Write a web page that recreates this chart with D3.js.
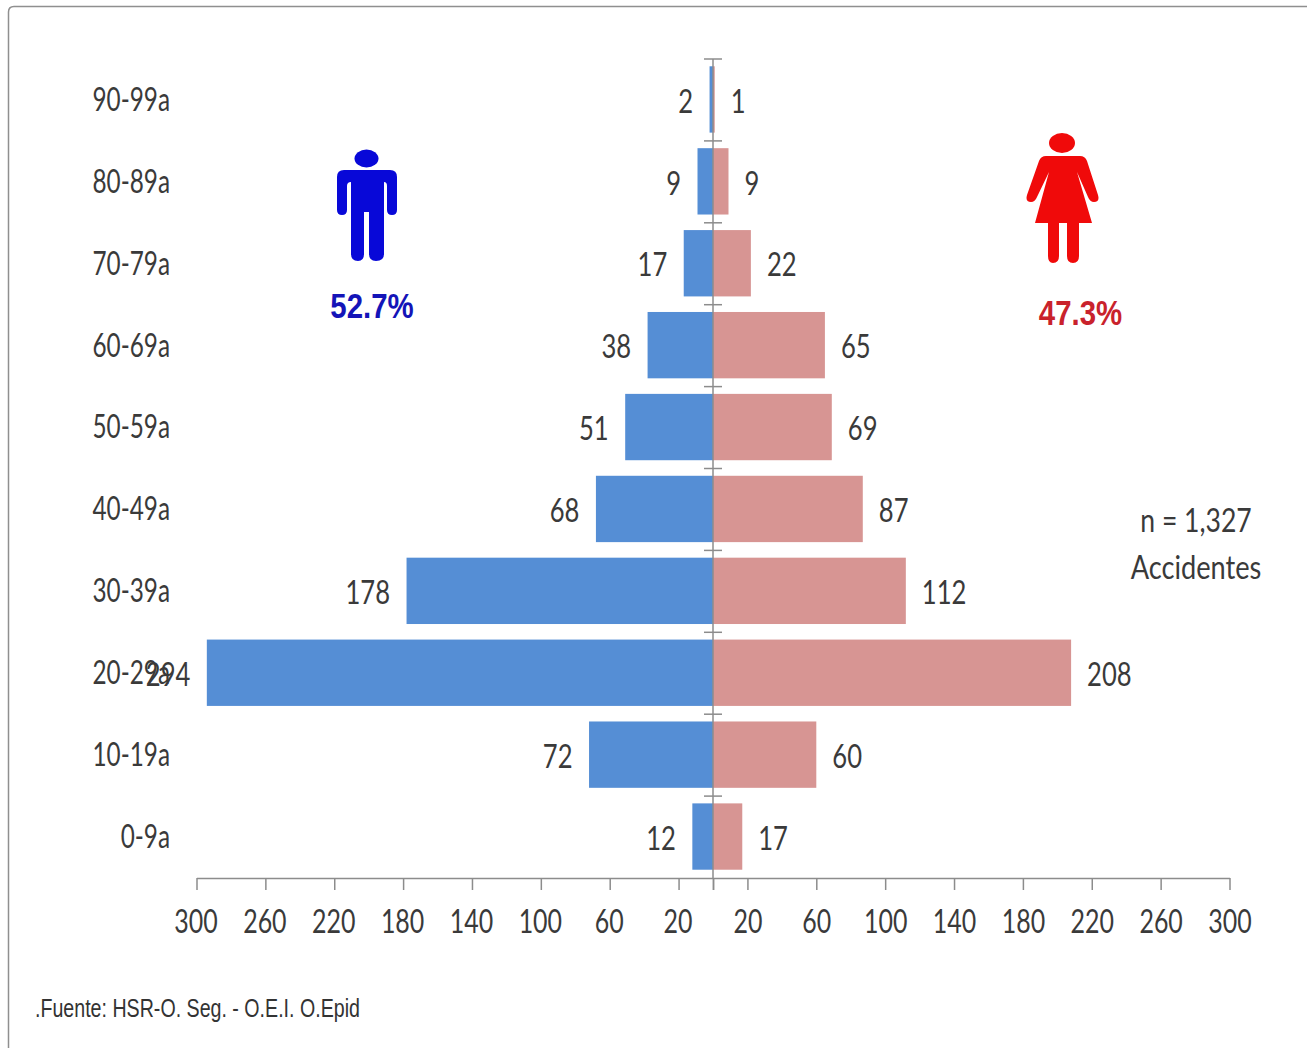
<!DOCTYPE html>
<html><head><meta charset="utf-8">
<script src="https://cdnjs.cloudflare.com/ajax/libs/d3/7.8.5/d3.min.js"></script>
<style>html,body{margin:0;padding:0;background:#fff}svg{display:block}</style>
</head><body><svg id="c" width="1307" height="1048"></svg>
<script>
const ageGroups = ["0-9a","10-19a","20-29a","30-39a","40-49a","50-59a","60-69a","70-79a","80-89a","90-99a"];
const maleValues = [12,72,294,178,68,51,38,17,9,2];
const femaleValues = [17,60,208,112,87,69,65,22,9,1];
const tickValues = [20,60,100,140,180,220,260,300];
const malePct = "52.7%", femalePct = "47.3%";
const noteLines = ["n = 1,327","Accidentes"];
const source = ".Fuente: HSR-O. Seg. - O.E.I. O.Epid";

const svg = d3.select("#c");
const cx = 713, axisY = 878, topY = 59;
const xM = d3.scaleLinear().domain([0,300]).range([cx,196.5]);
const xF = d3.scaleLinear().domain([0,300]).range([cx,1229.5]);
const y = d3.scaleBand().domain(ageGroups).range([axisY-0.5,topY-0.5]).paddingInner(0.19).paddingOuter(0.095);
const yStep = d3.scaleBand().domain(ageGroups).range([axisY,topY]);
const AXIS = "#8c8c8c", TXT = "#3a3a3a";

// frame
svg.append("path").attr("d","M8.5 1048V12Q8.5 6.5 14 6.5H1307").attr("fill","none").attr("stroke","#8f8f8f").attr("stroke-width",1.5);

function label(g,x,yy,t,o={}){
  return g.append("text").attr("transform",`translate(${x},${yy}) scale(${o.sx||0.78},1)`)
   .attr("text-anchor",o.anchor||"start").attr("dominant-baseline","central")
   .attr("font-family",o.font||"Lato, sans-serif").attr("font-size",o.size||32)
   .attr("font-weight",o.weight||400).attr("fill",o.fill||TXT).text(t);
}

// bars
svg.append("g").selectAll("rect").data(ageGroups).join("rect")
  .attr("x",(d,i)=>xM(maleValues[i])).attr("y",d=>y(d)).attr("height",y.bandwidth())
  .attr("width",(d,i)=>cx-xM(maleValues[i])).attr("fill","#558ed5");
svg.append("g").selectAll("rect").data(ageGroups).join("rect")
  .attr("x",cx).attr("y",d=>y(d)).attr("height",y.bandwidth())
  .attr("width",(d,i)=>xF(femaleValues[i])-cx).attr("fill","#d79593");

// centre axis
const ca = svg.append("g").attr("stroke",AXIS).attr("stroke-width",1.5);
ca.append("line").attr("x1",cx).attr("x2",cx).attr("y1",topY).attr("y2",axisY);
const bounds = ageGroups.map(d=>yStep(d));
ca.selectAll("line.t").data(bounds).join("line").attr("class","t")
  .attr("x1",cx-9).attr("x2",cx+9).attr("y1",d=>d).attr("y2",d=>d);

// bottom axes
function fmtAxis(sel){
  sel.select(".domain").attr("stroke",AXIS).attr("stroke-width",1.5);
  sel.selectAll(".tick line").attr("stroke",AXIS).attr("stroke-width",1.5);
  sel.selectAll(".tick text").remove();
}
svg.append("g").attr("transform",`translate(0,${axisY})`)
  .call(d3.axisBottom(xM).tickValues([0].concat(tickValues)).tickSize(12).tickSizeOuter(0)).call(fmtAxis);
svg.append("g").attr("transform",`translate(0,${axisY})`)
  .call(d3.axisBottom(xF).tickValues([0].concat(tickValues)).tickSize(12).tickSizeOuter(0)).call(fmtAxis);
const tl = svg.append("g");
tickValues.forEach(v=>{
  label(tl,xM(v)-0.5,921,v,{anchor:"middle"});
  label(tl,xF(v)+0.5,921,v,{anchor:"middle"});
});

// labels
const cl = svg.append("g");
ageGroups.forEach((d,i)=>{
  const c = yStep(d)+yStep.bandwidth()/2;
  label(cl,170,c-1.5,d,{anchor:"end",sx:0.76});
  label(cl,xM(maleValues[i])-16.5,c,maleValues[i],{anchor:"end",sx:0.8});
  label(cl,xF(femaleValues[i])+16,c,femaleValues[i],{sx:0.8});
});

// note & source
const nt = svg.append("g");
label(nt,1196,519,noteLines[0],{anchor:"middle",sx:0.83});
label(nt,1196,567,noteLines[1],{anchor:"middle",sx:0.85});
label(nt,35,1009,source,{font:"'Liberation Sans', sans-serif",size:25,sx:0.785,fill:"#333"});
label(nt,372,306,malePct,{anchor:"middle",font:"'Liberation Sans', sans-serif",size:35,weight:700,fill:"#1414b8",sx:0.84});
label(nt,1080.5,313,femalePct,{anchor:"middle",font:"'Liberation Sans', sans-serif",size:35,weight:700,fill:"#c9222c",sx:0.84});

// pictograms
const ic = svg.append("g");
ic.append("ellipse").attr("cx",366.5).attr("cy",158.5).attr("rx",12).attr("ry",9).attr("fill","#0808d8");
ic.append("path").attr("fill","#0808d8").attr("d",
 "M344 170H390Q397 170 397 177V210Q397 215 392 215Q387 215 387 210V186Q387 182 384 182V254Q384 261 376 261Q369 261 369 254V212H364V254Q364 261 358 261Q351 261 351 254V182Q347 182 347 186V210Q347 215 342 215Q337 215 337 210V177Q337 170 344 170Z");
ic.append("ellipse").attr("cx",1062).attr("cy",143).attr("rx",13).attr("ry",10).attr("fill","#f00a0a");
ic.append("path").attr("fill","#f00a0a").attr("d",
 "M1046 156H1080Q1085 156 1087 161L1098 195Q1100 202 1094 202Q1090 202 1088 197L1077 172L1092 223H1079V256Q1079 263 1073 263Q1067 263 1067 256V223H1059V256Q1059 263 1053 263Q1048 263 1048 256V223H1035L1049 172L1037 197Q1035 202 1031 202Q1025 202 1027 195L1039 161Q1041 156 1046 156Z");
</script></body></html>
